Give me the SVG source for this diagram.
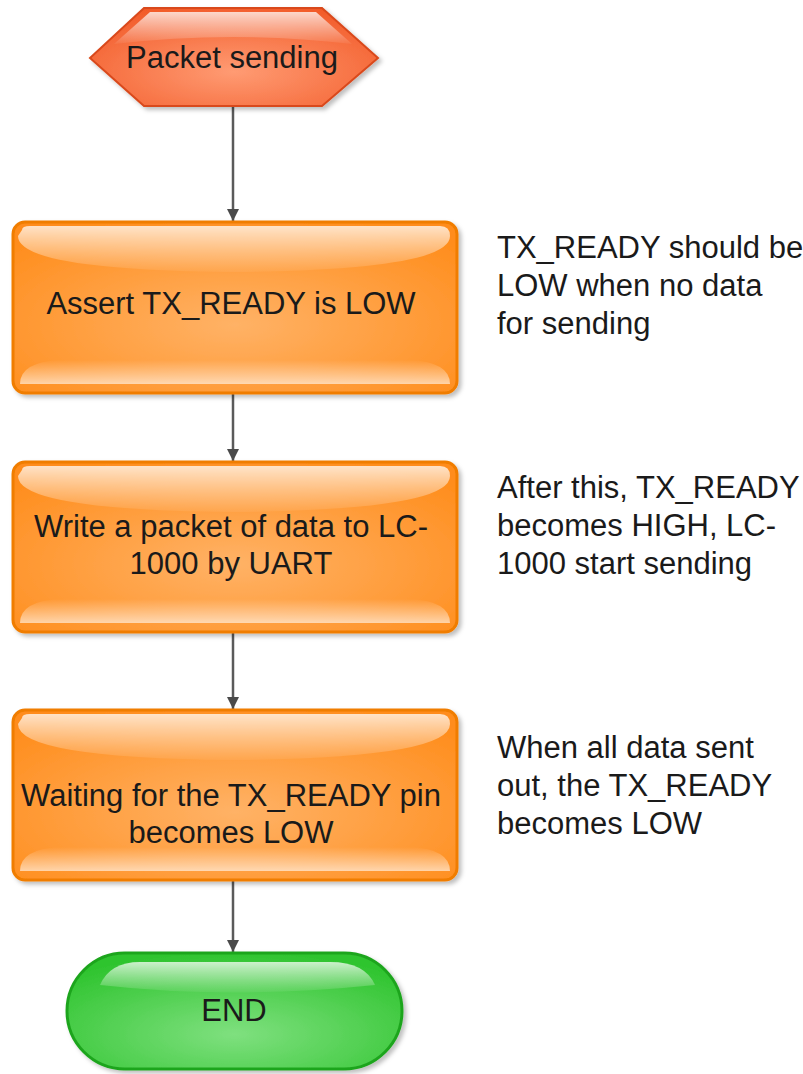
<svg xmlns="http://www.w3.org/2000/svg" width="803" height="1074" viewBox="0 0 803 1074">
<defs>
<style>
.t{font-family:"Liberation Sans",Arial,sans-serif;font-size:31px;fill:#1a1a1a;text-anchor:middle}
.n{font-family:"Liberation Sans",Arial,sans-serif;font-size:31px;fill:#1a1a1a}
.box{fill:url(#gOr);stroke:#F07D00;stroke-width:3}
.gl{fill:url(#gGl)}
.gb{fill:url(#gGb)}
.c{stroke:#5a5a5a;stroke-width:2.5;fill:none;marker-end:url(#ah)}
</style>
<radialGradient id="gOr" cx="0.5" cy="0.6" r="0.7">
<stop offset="0" stop-color="#FFB266"/><stop offset="1" stop-color="#FF8C1A"/>
</radialGradient>
<radialGradient id="gRd" cx="0.5" cy="0.65" r="0.7">
<stop offset="0" stop-color="#FF9B73"/><stop offset="1" stop-color="#F25A28"/>
</radialGradient>
<radialGradient id="gGr" cx="0.5" cy="0.7" r="0.7">
<stop offset="0" stop-color="#7FE07F"/><stop offset="1" stop-color="#2FC42F"/>
</radialGradient>
<linearGradient id="gGl" x1="0" y1="0" x2="0" y2="1">
<stop offset="0" stop-color="#fff" stop-opacity="0.75"/><stop offset="1" stop-color="#fff" stop-opacity="0.05"/>
</linearGradient>
<linearGradient id="gGb" x1="0" y1="0" x2="0" y2="1">
<stop offset="0" stop-color="#fff" stop-opacity="0"/><stop offset="1" stop-color="#fff" stop-opacity="0.6"/>
</linearGradient>
<marker id="ah" viewBox="0 0 10 10" refX="10" refY="5" markerWidth="5" markerHeight="5" markerUnits="strokeWidth" orient="auto">
<path d="M0,0 L10,5 L0,10 z" fill="#4a4a4a"/>
</marker>
<filter id="sh" x="-5%" y="-5%" width="115%" height="120%">
<feDropShadow dx="3" dy="3" stdDeviation="2" flood-color="#000" flood-opacity="0.25"/>
</filter>
</defs>
<g id="connectors">
<line class="c" x1="233" y1="105" x2="233" y2="221"/>
<line class="c" x1="233" y1="393" x2="233" y2="461"/>
<line class="c" x1="233" y1="632" x2="233" y2="709"/>
<line class="c" x1="233" y1="880" x2="233" y2="952"/>
</g>
<g id="start">
<polygon points="144,8 322,8 378,58 322,106 144,106 90,58" fill="url(#gRd)" stroke="#D9491C" stroke-width="2" filter="url(#sh)"/>
<path d="M150,12 L316,12 L352,44 Q233,30 114,44 Z" fill="url(#gGl)"/>
<text class="t" x="232" y="68">Packet sending</text>
</g>
<g id="n1">
<rect class="box" x="13" y="222" width="444" height="171" rx="12" filter="url(#sh)"/>
<path d="M22,230 Q22,226 30,226 L440,226 Q450,226 450,236 Q450,270 233,272 Q18,270 18,236 Z" class="gl"/>
<path d="M20,384 Q20,362 60,360 L410,360 Q450,362 450,384 Z" class="gb"/>
<text class="t" x="231" y="314">Assert TX_READY is LOW</text>
</g>
<g id="n2">
<rect class="box" x="13" y="462" width="444" height="170" rx="12" filter="url(#sh)"/>
<path d="M22,470 Q22,466 30,466 L440,466 Q450,466 450,476 Q450,510 233,512 Q18,510 18,476 Z" class="gl"/>
<path d="M20,623 Q20,601 60,599 L410,599 Q450,601 450,623 Z" class="gb"/>
<text class="t" x="231" y="537">Write a packet of data to LC-</text>
<text class="t" x="231" y="574">1000 by UART</text>
</g>
<g id="n3">
<rect class="box" x="13" y="710" width="444" height="170" rx="12" filter="url(#sh)"/>
<path d="M22,718 Q22,714 30,714 L440,714 Q450,714 450,724 Q450,758 233,760 Q18,758 18,724 Z" class="gl"/>
<path d="M20,871 Q20,849 60,847 L410,847 Q450,849 450,871 Z" class="gb"/>
<text class="t" x="231" y="806">Waiting for the TX_READY pin</text>
<text class="t" x="231" y="843">becomes LOW</text>
</g>
<g id="end">
<rect x="67" y="953" width="335" height="116" rx="58" fill="url(#gGr)" stroke="#1FA51F" stroke-width="3" filter="url(#sh)"/>
<path d="M100,985 Q110,962 140,962 L330,962 Q365,962 375,985 Q233,1000 100,985 Z" fill="url(#gGl)"/>
<text class="t" x="234" y="1021">END</text>
</g>
<g id="notes">
<text class="n" x="497" y="258">TX_READY should be</text>
<text class="n" x="497" y="296">LOW when no data</text>
<text class="n" x="497" y="334">for sending</text>
<text class="n" x="497" y="498">After this, TX_READY</text>
<text class="n" x="497" y="536">becomes HIGH, LC-</text>
<text class="n" x="497" y="574">1000 start sending</text>
<text class="n" x="497" y="758">When all data sent</text>
<text class="n" x="497" y="796">out, the TX_READY</text>
<text class="n" x="497" y="834">becomes LOW</text>
</g>
</svg>
